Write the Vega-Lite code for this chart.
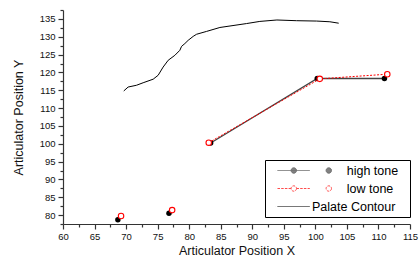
{
  "$schema": "https://vega.github.io/schema/vega-lite/v6.json",
  "width": 347,
  "height": 214,
  "autosize": {"type": "none"},
  "padding": {"left": 63, "top": 10, "right": 10, "bottom": 33},
  "background": "white",
  "config": {
    "view": {"stroke": null},
    "font": "Liberation Sans",
    "axis": {
      "grid": false,
      "domainColor": "#333",
      "domainWidth": 1.2,
      "tickColor": "#333",
      "tickWidth": 1.2,
      "labelColor": "#111",
      "labelFont": "Liberation Sans",
      "labelFontSize": 9.5,
      "titleFont": "Liberation Sans",
      "titleFontSize": 12.5,
      "titleFontWeight": "normal",
      "titleColor": "#111",
      "labelOverlap": false,
      "labelFlush": false
    },
    "legend": {
      "orient": "none",
      "legendX": 202,
      "legendY": 150,
      "strokeColor": "black",
      "fillColor": "white",
      "padding": 4,
      "symbolSize": 144,
      "symbolStrokeWidth": 1,
      "labelFont": "Liberation Sans",
      "labelFontSize": 12.5,
      "labelColor": "black",
      "labelOffset": 30,
      "rowPadding": 5
    }
  },
  "datasets": {
    "tones": [
      {"series": "high tone", "grp": "h1", "x": 68.7, "y": 78.7},
      {"series": "high tone", "grp": "h2", "x": 76.8, "y": 80.5},
      {"series": "high tone", "grp": "hL", "x": 83.4, "y": 100.2},
      {"series": "high tone", "grp": "hL", "x": 100.3, "y": 118.3},
      {"series": "high tone", "grp": "hL", "x": 110.95, "y": 118.3},
      {"series": "low tone", "grp": "l1", "x": 69.2, "y": 79.75},
      {"series": "low tone", "grp": "l2", "x": 77.3, "y": 81.4},
      {"series": "low tone", "grp": "lL", "x": 83.1, "y": 100.3},
      {"series": "low tone", "grp": "lL", "x": 100.7, "y": 118.2},
      {"series": "low tone", "grp": "lL", "x": 111.4, "y": 119.5}
    ],
    "palate": [
      {"x": 69.63, "y": 114.8},
      {"x": 70.32, "y": 115.9},
      {"x": 71.65, "y": 116.4},
      {"x": 72.7, "y": 117.1},
      {"x": 74.29, "y": 118.1},
      {"x": 75.08, "y": 119.2},
      {"x": 75.87, "y": 121.5},
      {"x": 76.67, "y": 123.4},
      {"x": 77.73, "y": 124.8},
      {"x": 78.52, "y": 126.2},
      {"x": 78.79, "y": 127.3},
      {"x": 79.32, "y": 128.1},
      {"x": 79.84, "y": 129.0},
      {"x": 80.63, "y": 130.1},
      {"x": 81.17, "y": 130.7},
      {"x": 82.76, "y": 131.5},
      {"x": 84.87, "y": 132.6},
      {"x": 89.1, "y": 133.7},
      {"x": 91.2, "y": 134.3},
      {"x": 93.9, "y": 134.7},
      {"x": 97.0, "y": 134.5},
      {"x": 100.2, "y": 134.4},
      {"x": 102.3, "y": 134.2},
      {"x": 103.7, "y": 133.8}
    ]
  },
  "encoding": {
    "x": {
      "field": "x", "type": "quantitative",
      "scale": {"domain": [60, 115], "nice": false, "zero": false},
      "axis": {
        "title": "Articulator Position X",
        "values": [60, 62.5, 65, 67.5, 70, 72.5, 75, 77.5, 80, 82.5, 85, 87.5, 90, 92.5, 95, 97.5, 100, 102.5, 105, 107.5, 110, 112.5, 115],
        "labelExpr": "datum.value % 5 == 0 ? datum.label : ''",
        "tickSize": {"condition": {"test": "datum.value % 5 == 0", "value": 5}, "value": 3},
        "labelPadding": 2,
        "titlePadding": 4
      }
    },
    "y": {
      "field": "y", "type": "quantitative",
      "scale": {"domain": [77.5, 137.5], "nice": false, "zero": false},
      "axis": {
        "title": "Articulator Position Y",
        "values": [77.5, 80, 82.5, 85, 87.5, 90, 92.5, 95, 97.5, 100, 102.5, 105, 107.5, 110, 112.5, 115, 117.5, 120, 122.5, 125, 127.5, 130, 132.5, 135, 137.5],
        "labelExpr": "datum.value % 5 == 0 ? datum.label : ''",
        "tickSize": {"condition": {"test": "datum.value % 5 == 0", "value": 5}, "value": 3},
        "labelPadding": 3,
        "titlePadding": 14
      }
    }
  },
  "layer": [
    {
      "data": {"name": "palate"},
      "mark": {"type": "line", "color": "black", "strokeWidth": 1}
    },
    {
      "data": {"name": "tones"},
      "transform": [{"filter": "datum.series == 'high tone'"}],
      "mark": {"type": "line", "color": "#444", "strokeWidth": 1.3},
      "encoding": {"detail": {"field": "grp", "type": "nominal"}}
    },
    {
      "data": {"name": "tones"},
      "transform": [{"filter": "datum.series == 'high tone'"}],
      "mark": {"type": "point", "shape": "circle", "filled": true, "color": "black", "size": 30, "opacity": 1}
    },
    {
      "data": {"name": "tones"},
      "transform": [{"filter": "datum.series == 'low tone'"}],
      "mark": {"type": "line", "color": "red", "strokeWidth": 1, "strokeDash": [2, 1.5]},
      "encoding": {"detail": {"field": "grp", "type": "nominal"}}
    },
    {
      "data": {"name": "tones"},
      "transform": [{"filter": "datum.series == 'low tone'"}],
      "mark": {"type": "point", "shape": "circle", "fill": "white", "stroke": "red", "strokeWidth": 1.1, "size": 30, "opacity": 1}
    },
    {
      "data": {"values": []},
      "mark": {"type": "point", "strokeWidth": 1},
      "encoding": {
        "x": {"field": "x", "type": "quantitative"},
        "y": {"field": "y", "type": "quantitative"},
        "shape": {
          "field": "series", "type": "nominal",
          "scale": {
            "domain": ["high tone", "low tone", "Palate Contour"],
            "range": [
              "M0,0h0.01M0.333,0H5.717M3.5,0A0.45,0.45 0 1,1 2.6,0A0.45,0.45 0 1,1 3.5,0M9.333,0A0.45,0.45 0 1,1 8.433,0A0.45,0.45 0 1,1 9.333,0",
              "M0,0h0.01M0.333,0H2.6M3.5,0H5.717M3.5,0A0.45,0.45 0 1,1 2.6,0A0.45,0.45 0 1,1 3.5,0M9.333,0A0.45,0.45 0 1,1 8.433,0A0.45,0.45 0 1,1 9.333,0",
              "M0,0h0.01M0.333,0H5.717"
            ]
          },
          "legend": {"title": null, "labelExpr": "datum.label == 'Palate Contour' ? datum.label : '\u200b\u00a0\u00a0\u00a0\u00a0\u00a0\u00a0\u00a0\u00a0\u00a0\u00a0' + datum.label + '\u00a0\u00a0\u200b'"}
        },
        "fill": {
          "field": "series", "type": "nominal",
          "scale": {"domain": ["high tone", "low tone", "Palate Contour"], "range": ["black", "white", "black"]},
          "legend": {"title": null, "labelExpr": "datum.label == 'Palate Contour' ? datum.label : '\u200b\u00a0\u00a0\u00a0\u00a0\u00a0\u00a0\u00a0\u00a0\u00a0\u00a0' + datum.label + '\u00a0\u00a0\u200b'"}
        },
        "stroke": {
          "field": "series", "type": "nominal",
          "scale": {"domain": ["high tone", "low tone", "Palate Contour"], "range": ["#333", "red", "black"]},
          "legend": {"title": null, "labelExpr": "datum.label == 'Palate Contour' ? datum.label : '\u200b\u00a0\u00a0\u00a0\u00a0\u00a0\u00a0\u00a0\u00a0\u00a0\u00a0' + datum.label + '\u00a0\u00a0\u200b'"}
        },
        "strokeDash": {
          "field": "series", "type": "nominal",
          "scale": {"domain": ["high tone", "low tone", "Palate Contour"], "range": [[1, 0], [2.5, 1.2], [1, 0]]},
          "legend": {"title": null, "labelExpr": "datum.label == 'Palate Contour' ? datum.label : '\u200b\u00a0\u00a0\u00a0\u00a0\u00a0\u00a0\u00a0\u00a0\u00a0\u00a0' + datum.label + '\u00a0\u00a0\u200b'"}
        }
      }
    },
    {
      "mark": {"type": "text", "font": "Liberation Serif", "fontSize": 21, "align": "left", "baseline": "alphabetic", "color": "black"},
      "encoding": {
        "x": {"datum": 61.5},
        "y": {"datum": 131.4},
        "text": {"value": "[a]"}
      }
    }
  ]
}
